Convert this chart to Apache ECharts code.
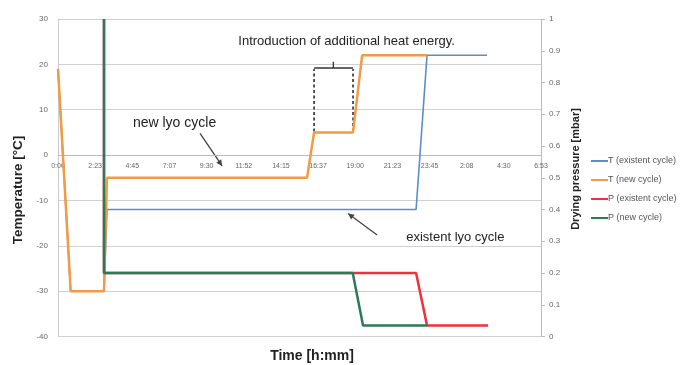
<!DOCTYPE html>
<html><head><meta charset="utf-8">
<script src="https://cdn.jsdelivr.net/npm/echarts@6/dist/echarts.min.js"></script>
<style>html,body{margin:0;padding:0;background:#fff}#c{width:681px;height:365px}</style>
</head><body><div id="c"></div>
<script>
// tick labels of the time axis (one per 2.375 h step)
const xLabels = ['0:00','2:23','4:45','7:07','9:30','11:52','14:15','16:37','19:00','21:23','23:45','2:08','4:30','6:53'];
const xStep = 2.375;
// T (existent cycle)
const tExistH = [0, 0.81, 2.94, 3.13, 22.89, 23.59, 27.43];
const tExistV = [19, -30, -30, -12, -12, 22, 22];
// T (new cycle)
const tNewH = [0, 0.81, 2.94, 3.13, 15.92, 16.37, 18.86, 19.44, 23.59];
const tNewV = [19, -30, -30, -5, -5, 5, 5, 22, 22];
// P (existent cycle)
const pExistH = [2.94, 2.94, 22.89, 23.59, 27.49];
const pExistV = [1, 0.2, 0.2, 0.035, 0.035];
// P (new cycle)
const pNewH = [2.94, 2.94, 18.84, 19.5, 23.59];
const pNewV = [1, 0.2, 0.2, 0.035, 0.035];

const zip = (a, b) => a.map((x, i) => [x, b[i]]);
const font = 'Liberation Sans, Arial, sans-serif';
const chart = echarts.init(document.getElementById('c'));
chart.setOption({
  animation: false,
  grid: {left: 58, right: 140, top: 19, bottom: 28.5},
  legend: {
    orient: 'vertical', left: 586, top: 150, itemGap: 7,
    itemWidth: 17, itemHeight: 2, icon: 'rect',
    textStyle: {fontFamily: font, fontSize: 9, color: '#555', lineHeight: 12, padding: [0,0,0,-5]},
    data: ['T (existent cycle)', 'T (new cycle)', 'P (existent cycle)', 'P (new cycle)']
  },
  xAxis: {
    type: 'value', min: 0, max: xStep * (xLabels.length - 1), interval: xStep,
    axisLine: {onZero: false, lineStyle: {color: '#bbb'}},
    axisTick: {show: false},
    axisLabel: {fontFamily: font, fontSize: 7, color: '#666', margin: 7,
      formatter: v => xLabels[Math.round(v / xStep)] || ''},
    splitLine: {show: false}
  },
  yAxis: [{
    type: 'value', min: -40, max: 30, interval: 10,
    axisLine: {show: true, lineStyle: {color: '#ccc'}},
    axisTick: {show: false},
    axisLabel: {fontFamily: font, fontSize: 8, color: '#666', margin: 10},
    splitLine: {lineStyle: {color: '#d0d0d0'}}
  }, {
    type: 'value', min: 0, max: 1, interval: 0.1, position: 'right',
    axisLine: {show: true, lineStyle: {color: '#bbb'}},
    axisTick: {show: true, length: 4, lineStyle: {color: '#bbb'}},
    axisLabel: {fontFamily: font, fontSize: 8, color: '#666', margin: 8,
      formatter: v => Math.round(v * 10) / 10 + ''},
    splitLine: {show: false}
  }],
  series: [
    {name: 'T (existent cycle)', type: 'line', yAxisIndex: 0, showSymbol: false, data: zip(tExistH, tExistV),
      lineStyle: {color: '#5b8ccb', width: 1.6}, itemStyle: {color: '#5b8ccb'}},
    {name: 'T (new cycle)', type: 'line', yAxisIndex: 0, showSymbol: false, data: zip(tNewH, tNewV),
      lineStyle: {color: '#f39a45', width: 2.5}, itemStyle: {color: '#f39a45'}},
    {name: 'P (existent cycle)', type: 'line', yAxisIndex: 1, showSymbol: false, data: zip(pExistH, pExistV),
      lineStyle: {color: '#f0303c', width: 2.5}, itemStyle: {color: '#f0303c'}},
    {name: 'P (new cycle)', type: 'line', yAxisIndex: 1, showSymbol: false, data: zip(pNewH, pNewV),
      lineStyle: {color: '#2b7a5a', width: 2.5}, itemStyle: {color: '#2b7a5a'}}
  ]
});

// annotations, placed in data coordinates (hours, °C)
const px = (h, t) => chart.convertToPixel({xAxisIndex: 0, yAxisIndex: 0}, [h, t]);
// move the time axis up to the 0 °C line
const lift = px(0, -40)[1] - px(0, 0)[1];
const g = [];
function text(str, h, t, size) {
  const p = px(h, t);
  g.push({type: 'text', x: p[0], y: p[1], style: {text: str, fill: '#222', font: size + 'px ' + font, align: 'center', verticalAlign: 'middle'}});
}
function title(str, x, y, size, rot) {
  g.push({type: 'text', x: x, y: y, rotation: rot, style: {text: str, fill: '#222',
    font: 'bold ' + size + 'px ' + font, align: 'center', verticalAlign: 'middle'}});
}
function line(a, b, dash, w, col) {
  const p1 = px(a[0], a[1]), p2 = px(b[0], b[1]);
  g.push({type: 'line', shape: {x1: p1[0], y1: p1[1], x2: p2[0], y2: p2[1]},
    style: {stroke: col || '#333', lineWidth: w || 1.2, lineDash: dash ? [3, 2.5] : null}});
}
function arrow(a, b) {
  const p1 = px(a[0], a[1]), p2 = px(b[0], b[1]);
  g.push({type: 'line', shape: {x1: p1[0], y1: p1[1], x2: p2[0], y2: p2[1]}, style: {stroke: '#444', lineWidth: 1.3}});
  const ang = Math.atan2(p2[1] - p1[1], p2[0] - p1[0]), L = 6, W = 3;
  const bx = p2[0] - L * Math.cos(ang), by = p2[1] - L * Math.sin(ang);
  g.push({type: 'polygon', shape: {points: [[p2[0], p2[1]],
    [bx - W * Math.sin(ang), by + W * Math.cos(ang)], [bx + W * Math.sin(ang), by - W * Math.cos(ang)]]},
    style: {fill: '#444'}});
}
title('Temperature [°C]', 18, 190, 13.5, Math.PI / 2);
title('Drying pressure [mbar]', 576, 169, 11, Math.PI / 2);
title('Time [h:mm]', 312, 356, 14, 0);
text('Introduction of additional heat energy.', 18.45, 25.1, 13);
text('new lyo cycle', 7.45, 7.0, 14);
text('existent lyo cycle', 25.4, -18.1, 13);
arrow([9.08, 4.8], [10.49, -2.4]);
arrow([20.4, -17.6], [18.54, -12.9]);
line([16.37, 5.2], [16.37, 19.0], true, 1.8, '#444');
line([18.86, 5.2], [18.86, 19.0], true, 1.8, '#444');
line([16.37, 19.2], [18.86, 19.2], false, 1.3, '#333');
line([17.6, 19.2], [17.6, 20.6], false, 1.3, '#333');
chart.setOption({xAxis: {offset: -lift}, graphic: g});
</script></body></html>
